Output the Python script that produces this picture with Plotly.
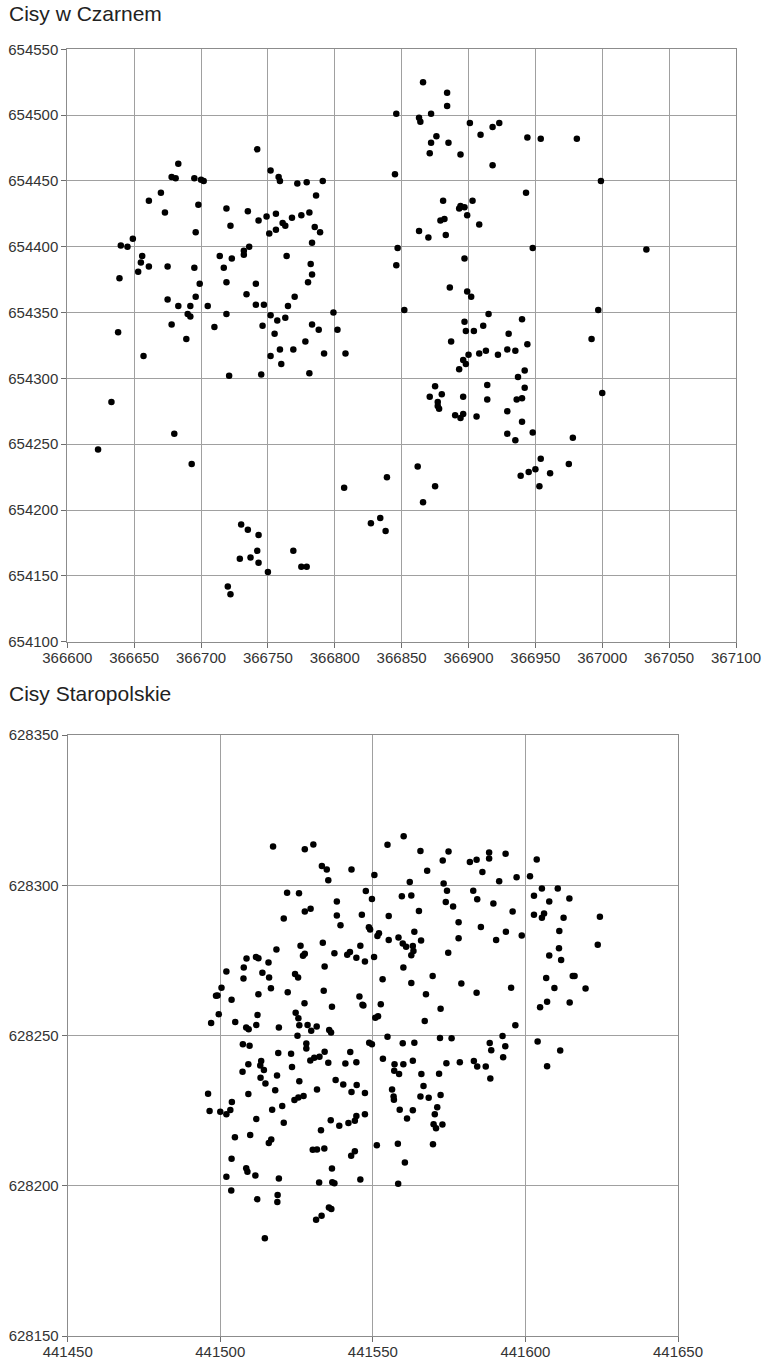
import plotly.graph_objects as go

W, H = 764, 1361

# ---- Cisy w Czarnem ----
czarne_x = [
    366742, 366683, 366678, 366681, 366695, 366700, 366702, 366752, 366758, 366759,
    366772, 366670, 366661, 366673, 366698, 366719, 366735, 366722, 366743, 366749,
    366756, 366761, 366763, 366756, 366751, 366768, 366696, 366649, 366640, 366645,
    366736, 366732, 366732, 366656, 366655, 366653, 366661, 366675, 366695, 366714,
    366717, 366723, 366764, 366639, 366699, 366719, 366741, 366734, 366696, 366675,
    366683, 366692, 366705, 366741, 366747, 366770, 366765, 366719, 366690, 366692,
    366752, 366757, 366763, 366678, 366746, 366710, 366638, 366755, 366689,
    366657, 366721, 366745, 366752, 366759, 366760, 366769, 366633, 366623, 366680,
    366693, 366730, 366735, 366743, 366742, 366729, 366737, 366743, 366750, 366769,
    366720, 366722,
    366778, 366792, 366808, 366781, 366887, 366900, 366908, 366913, 366922, 366929,
    366935, 366944, 366896, 366898, 366893, 366937, 366942, 366942, 366936, 366940,
    366929, 366940, 366929, 366935, 366875, 366880, 366871, 366877, 366877, 366878,
    366896, 366914, 366914, 366890, 366894, 366896, 366906, 366862, 366839, 366807,
    366875, 366866, 366827, 366834, 366838, 366775, 366779, 366939, 366945,
    366992, 367000, 366948, 366978, 366954, 366975, 366950, 366961, 366953,
    366866, 366884, 366884, 366846, 366863, 366864, 366872, 366901, 366909, 366918,
    366923, 366944, 366876, 366872, 366885, 366871, 366894, 366918, 366845, 366779,
    366791, 366786, 366775, 366781, 366785, 366789, 366783, 366943, 366881, 366894,
    366893, 366897, 366903, 366899, 366908, 366879, 366882, 366863, 366870, 366883,
    366847, 366846, 366782, 366783, 366780, 366897, 366886, 366899, 366902, 366852,
    366799, 366915, 366897, 366940, 366911, 366904, 366898, 366930, 366783, 366788,
    366802,
    366954, 366981, 366999, 366948, 367033, 366997,
]
czarne_y = [
    654474, 654463, 654453, 654452, 654452, 654451, 654450, 654458, 654453, 654450,
    654448, 654441, 654435, 654426, 654432, 654429, 654427, 654416, 654420, 654423,
    654425, 654418, 654416, 654413, 654410, 654422, 654411, 654406, 654401, 654400,
    654400, 654397, 654394, 654393, 654388, 654381, 654385, 654385, 654384, 654393,
    654384, 654391, 654393, 654376, 654372, 654373, 654372, 654364, 654362, 654360,
    654355, 654355, 654355, 654356, 654356, 654362, 654355, 654349, 654349, 654347,
    654348, 654344, 654346, 654341, 654340, 654339, 654335, 654334, 654330,
    654317, 654302, 654303, 654317, 654322, 654311, 654322, 654282, 654246, 654258,
    654235, 654189, 654185, 654181, 654169, 654163, 654164, 654160, 654153, 654169,
    654142, 654136,
    654328, 654319, 654319, 654304, 654328, 654318, 654319, 654321, 654318, 654322,
    654321, 654326, 654314, 654311, 654307, 654301, 654306, 654293, 654284, 654285,
    654275, 654267, 654258, 654253, 654294, 654288, 654286, 654282, 654279, 654277,
    654286, 654295, 654284, 654272, 654270, 654273, 654271, 654233, 654225, 654217,
    654218, 654206, 654190, 654194, 654184, 654157, 654157, 654226, 654229,
    654330, 654289, 654259, 654255, 654239, 654235, 654231, 654228, 654218,
    654525, 654517, 654507, 654501, 654498, 654495, 654501, 654494, 654485, 654491,
    654494, 654483, 654484, 654479, 654479, 654471, 654470, 654462, 654455, 654449,
    654450, 654439, 654424, 654426, 654415, 654411, 654403, 654441, 654435, 654431,
    654429, 654430, 654435, 654424, 654417, 654420, 654421, 654412, 654407, 654409,
    654399, 654386, 654387, 654379, 654373, 654391, 654369, 654366, 654362, 654352,
    654350, 654349, 654343, 654345, 654340, 654336, 654336, 654334, 654341, 654337,
    654337,
    654482, 654482, 654450, 654399, 654398, 654352,
]

# ---- Cisy Staropolskie ----
staro_x = [
    441517.3, 441527.7, 441530.5, 441554.8, 441533.3, 441534.9, 441535.4, 441543.0, 441550.5, 441521.9,
    441525.8, 441547.7, 441549.7, 441538.2, 441527.7, 441529.6, 441520.8, 441538.2, 441546.4, 441555.2,
    441539.4, 441548.7, 441549.1, 441552.0, 441551.5, 441555.2, 441558.4, 441533.6, 441518.4, 441526.3,
    441527.7, 441527.1, 441545.9, 441537.4, 441541.6, 441542.5, 441544.6, 441547.4, 441550.4, 441508.6,
    441511.7, 441512.5, 441515.8, 441507.7, 441502.0, 441513.8, 441516.0, 441507.6, 441524.5, 441525.5,
    441534.2, 441553.2, 441500.4, 441516.6, 441498.6, 441499.1, 441503.7, 441512.5, 441522.1, 441533.9,
    441545.6, 441546.6, 441546.9, 441552.6, 441527.6, 441536.6, 441499.5, 441497.0, 441504.9, 441508.5,
    441509.3, 441512.2, 441511.8, 441519.2, 441524.7, 441525.6, 441525.9, 441528.6, 441529.8, 441531.6,
    441535.7, 441550.8, 441551.7,
    441560.1, 441565.6, 441574.8, 441572.9, 441567.8, 441581.8, 441584.0, 441588.1, 441588.1, 441593.5,
    441585.9, 441603.7, 441591.4, 441597.1, 441601.5, 441562.1, 441573.2, 441574.3, 441582.9, 441559.5,
    441562.6, 441584.2, 441605.4, 441610.6, 441602.8, 441614.4, 441607.8, 441573.9, 441576.3, 441589.5,
    441595.8, 441565.1, 441602.8, 441605.4, 441606.1, 441612.5, 441624.4, 441578.1, 441585.4, 441563.6,
    441565.8, 441578.1, 441590.4, 441593.6, 441598.8, 441611.1, 441559.8, 441560.9, 441563.1, 441563.3,
    441562.6, 441574.7, 441611.0, 441607.8, 441611.7, 441623.7, 441560.0, 441569.6, 441562.6, 441579.0,
    441567.4, 441584.0, 441595.3, 441606.8, 441609.5, 441615.5, 441616.1, 441619.7, 441607.1, 441604.8,
    441614.5, 441572.2, 441567.0, 441596.7,
    441525.3, 441536.3, 441548.8, 441549.7, 441554.8, 441507.4, 441509.6, 441519.0, 441523.2, 441528.2,
    441528.2, 441534.2, 441529.5, 441530.8, 441532.5, 441535.4, 441542.6, 441541.0, 441544.6, 441553.3,
    441509.2, 441507.3, 441513.1, 441513.4, 441514.3, 441513.2, 441514.8, 441518.6, 441518.0, 441523.5,
    441525.9, 441531.7, 441537.8, 441540.3, 441543.0, 441544.7, 441547.4, 441496.0, 441496.5, 441500.0,
    441502.0, 441503.3, 441503.8, 441509.2, 441517.0, 441520.3, 441524.3, 441525.6, 441527.3, 441520.8,
    441511.8, 441536.2, 441539.0, 441542.0, 441544.1, 441544.6, 441547.4, 441533.0, 441504.8, 441509.8,
    441515.9, 441516.7, 441530.3, 441531.7, 441534.1, 441542.9, 441544.1, 441551.3, 441503.7, 441508.5,
    441508.9, 441511.5, 441502.0, 441519.2, 441536.6, 441532.4, 441536.7, 441537.4, 441545.9, 441503.6,
    441512.1, 441518.8, 441518.7, 441531.4, 441533.2, 441535.6, 441536.4, 441514.6,
    441559.8, 441563.6, 441572.0, 441575.8, 441588.3, 441592.5, 441593.4, 441588.8, 441592.7, 441604.0,
    441611.4, 441607.1, 441557.1, 441557.0, 441558.6, 441560.0, 441563.1, 441565.9, 441571.7, 441574.1,
    441578.5, 441583.1, 441584.2, 441587.0, 441588.5, 441556.3, 441556.8, 441556.9, 441566.6, 441565.6,
    441568.3, 441572.2, 441571.1, 441570.3, 441558.8, 441563.1, 441561.2, 441569.9, 441570.7, 441572.8,
    441558.2, 441569.7, 441560.5, 441558.3,
]
staro_y = [
    628312.9, 628312.0, 628313.6, 628313.5, 628306.4, 628305.2, 628301.7, 628305.2, 628303.4, 628297.5,
    628297.3, 628298.1, 628295.4, 628294.6, 628291.3, 628292.2, 628288.9, 628289.9, 628290.2, 628289.8,
    628286.7, 628286.0, 628285.3, 628284.0, 628283.1, 628281.8, 628282.6, 628280.9, 628278.6, 628279.9,
    628277.2, 628276.5, 628279.9, 628277.4, 628276.9, 628277.8, 628275.9, 628274.6, 628276.1, 628275.6,
    628276.1, 628275.7, 628274.3, 628272.6, 628271.3, 628270.9, 628269.3, 628269.0, 628270.5, 628269.3,
    628273.0, 628268.7, 628265.9, 628265.7, 628263.2, 628263.3, 628261.9, 628263.7, 628264.4, 628264.9,
    628263.0, 628260.2, 628260.0, 628260.4, 628260.7, 628259.6, 628257.1, 628254.2, 628254.5, 628252.7,
    628252.1, 628256.8, 628253.5, 628252.7, 628257.6, 628255.7, 628253.4, 628253.5, 628251.6, 628253.0,
    628251.8, 628255.9, 628256.4,
    628316.3, 628311.4, 628311.2, 628308.2, 628304.8, 628307.7, 628308.5, 628310.9, 628308.9, 628310.5,
    628304.4, 628308.6, 628301.3, 628302.7, 628303.0, 628301.1, 628300.6, 628298.2, 628298.2, 628296.3,
    628296.6, 628295.3, 628298.9, 628298.9, 628296.5, 628295.6, 628294.6, 628294.4, 628292.9, 628293.9,
    628291.3, 628291.4, 628290.2, 628289.2, 628290.6, 628289.2, 628289.5, 628287.7, 628286.1, 628284.5,
    628281.6, 628282.4, 628281.8, 628284.5, 628283.3, 628284.8, 628280.6, 628279.5, 628279.8, 628278.1,
    628276.7, 628277.5, 628279.0, 628276.6, 628275.1, 628280.2, 628272.6, 628269.8, 628267.5, 628267.3,
    628263.7, 628264.2, 628265.9, 628269.1, 628265.8, 628269.8, 628269.8, 628265.6, 628261.2, 628259.4,
    628261.0, 628258.9, 628254.8, 628253.4,
    628249.9, 628251.0, 628247.6, 628247.1, 628249.6, 628247.1, 628246.6, 628244.2, 628243.9, 628247.3,
    628245.7, 628244.6, 628241.7, 628242.6, 628242.9, 628240.9, 628244.5, 628240.7, 628241.1, 628242.3,
    628240.4, 628237.9, 628240.0, 628241.5, 628238.5, 628235.9, 628234.0, 628236.7, 628231.8, 628239.5,
    628234.8, 628232.0, 628235.2, 628233.7, 628231.2, 628233.5, 628230.9, 628230.6, 628224.9, 628224.6,
    628223.8, 628225.2, 628227.9, 628230.5, 628225.3, 628226.5, 628228.5, 628229.4, 628229.9, 628221.0,
    628222.2, 628221.8, 628220.0, 628220.9, 628221.6, 628223.2, 628223.8, 628218.5, 628216.1, 628216.9,
    628214.2, 628215.4, 628212.0, 628212.1, 628212.4, 628210.0, 628211.5, 628213.5, 628209.0, 628205.8,
    628204.7, 628203.4, 628203.0, 628202.4, 628205.7, 628201.1, 628201.2, 628200.8, 628202.1, 628198.4,
    628195.5, 628196.9, 628194.6, 628188.7, 628190.0, 628192.8, 628192.3, 628182.5,
    628247.4, 628247.6, 628249.2, 628249.1, 628247.5, 628249.8, 628246.4, 628245.1, 628242.8, 628248.0,
    628245.0, 628239.8, 628240.4, 628238.3, 628237.2, 628240.4, 628241.6, 628237.2, 628237.3, 628240.8,
    628241.1, 628241.5, 628239.7, 628239.7, 628235.7, 628232.0, 628229.7, 628228.6, 628233.2, 628229.7,
    628229.3, 628230.2, 628226.1, 628223.8, 628225.3, 628225.1, 628222.4, 628220.5, 628219.1, 628220.4,
    628214.0, 628213.8, 628207.7, 628200.7,
]

titles = ["Cisy w Czarnem", "Cisy Staropolskie"]
czarne_xrange, czarne_yrange = [366600, 367100], [654100, 654550]
staro_xrange, staro_yrange = [441450, 441650], [628150, 628350]

n1 = min(len(czarne_x), len(czarne_y))
n2 = min(len(staro_x), len(staro_y))

FONT = "Liberation Sans, Arial, sans-serif"

fig = go.Figure()
fig.add_trace(go.Scatter(x=czarne_x[:n1], y=czarne_y[:n1], mode="markers",
                         marker=dict(color="black", size=6.5, line=dict(width=0)),
                         xaxis="x", yaxis="y", showlegend=False, hoverinfo="skip"))
fig.add_trace(go.Scatter(x=staro_x[:n2], y=staro_y[:n2], mode="markers",
                         marker=dict(color="black", size=6.5, line=dict(width=0)),
                         xaxis="x2", yaxis="y2", showlegend=False, hoverinfo="skip"))


def px_dom_x(a, b):
    return [a / W, b / W]


def px_dom_y(top, bottom):
    return [1 - bottom / H, 1 - top / H]


axis_common = dict(
    showgrid=True, gridcolor="#a0a0a0", gridwidth=1,
    showline=True, linecolor="#8c8c8c", linewidth=1, mirror=True,
    ticks="outside", ticklen=5, tickcolor="#6e6e6e", tickwidth=1,
    tickfont=dict(family=FONT, size=15, color="#333333"),
    zeroline=False, dtick=50, tickformat="d", fixedrange=True,
    automargin=False,
)

fig.update_layout(
    width=W, height=H, margin=dict(l=0, r=0, t=0, b=0, autoexpand=False),
    paper_bgcolor="white", plot_bgcolor="white",
    xaxis=dict(axis_common, range=czarne_xrange, tick0=czarne_xrange[0],
               domain=px_dom_x(67.3, 736), anchor="y", ticklabelstandoff=-3),
    yaxis=dict(axis_common, range=czarne_yrange, tick0=czarne_yrange[0],
               domain=px_dom_y(49.3, 641.7), anchor="x"),
    xaxis2=dict(axis_common, range=staro_xrange, tick0=staro_xrange[0],
                domain=px_dom_x(67.7, 678), anchor="y2", ticklabelstandoff=-3),
    yaxis2=dict(axis_common, range=staro_yrange, tick0=staro_yrange[0],
                domain=px_dom_y(735, 1336), anchor="x2"),
    annotations=[
        dict(text=titles[0], xref="paper", yref="paper", x=7 / W, y=1 - 13 / H,
             xanchor="left", yanchor="middle", showarrow=False,
             font=dict(family=FONT, size=21, color="#222222")),
        dict(text=titles[1], xref="paper", yref="paper", x=7 / W, y=1 - 693 / H,
             xanchor="left", yanchor="middle", showarrow=False,
             font=dict(family=FONT, size=21, color="#222222")),
    ],
)

# remove the default 8px page margin so the figure sits at the window's corner
fig.write_html(
    "out.html",
    config={"displayModeBar": False, "staticPlot": True},
    post_script="document.body.style.margin='0';document.body.style.overflow='hidden';",
)
